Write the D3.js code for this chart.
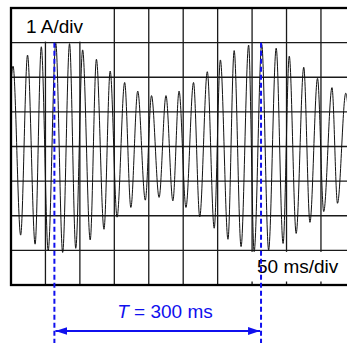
<!DOCTYPE html>
<html>
<head>
<meta charset="utf-8">
<script src="https://cdn.jsdelivr.net/npm/d3@7"></script>
<style>
  html, body { margin: 0; padding: 0; background: #fff; }
  svg { display: block; font-family: "Liberation Sans", Arial, Helvetica, sans-serif; }
</style>
</head>
<body>
<svg id="chart" width="347" height="343"></svg>
<script>
// Oscilloscope trace: 50 Hz current with a slow beat in its amplitude.
// Extremes of the trace (time in ms, current in A).
const peakTimes   = [3, 24, 44, 65, 85, 104, 124, 144, 165, 184, 204, 225, 244, 265, 285, 304, 324, 345, 364, 385, 404, 425, 445, 466, 486];
const peakValues  = [2.32, 2.64, 2.88, 2.98, 2.97, 2.79, 2.52, 2.18, 1.85, 1.60, 1.47, 1.47, 1.60, 1.85, 2.16, 2.50, 2.77, 2.93, 2.95, 2.84, 2.61, 2.29, 1.97, 1.70, 1.54];
const troughTimes  = [-7, 14, 35, 54, 75, 94, 115, 135, 154, 174, 195, 215, 235, 254, 274, 295, 315, 334, 353, 374, 395, 414, 434, 454, 474, 496];
const troughValues = [-2.2, -2.56, -2.82, -3.01, -3.06, -2.94, -2.70, -2.39, -2.04, -1.76, -1.55, -1.47, -1.57, -1.76, -2.03, -2.36, -2.68, -2.89, -3.04, -2.99, -2.80, -2.51, -2.19, -1.88, -1.64, -1.5];

// Graticule: 10 time divisions of 50 ms, 8 current divisions of 1 A.
const timeGrid    = [0, 50, 100, 150, 200, 250, 300, 350, 400, 450, 500];
const currentGrid = [-4, -3, -2, -1, 0, 1, 2, 3, 4];

// Period marker
const periodStart = 63;
const periodMs = 300;

const trace = peakTimes.map((t, i) => ({ t, v: peakValues[i] }))
  .concat(troughTimes.map((t, i) => ({ t, v: troughValues[i] })))
  .sort((a, b) => a.t - b.t);

const svg = d3.select("#chart");
const plot = { left: 11, top: 8, right: 355.4, bottom: 285 };

const x = d3.scaleLinear().domain([0, 500]).range([plot.left, plot.right]);
const y = d3.scaleLinear().domain([-4, 4]).range([plot.bottom, plot.top]);

svg.append("defs").append("clipPath").attr("id", "screen")
  .append("rect")
  .attr("x", plot.left).attr("y", plot.top)
  .attr("width", plot.right - plot.left).attr("height", plot.bottom - plot.top);

// grid lines
const grid = svg.append("g").attr("stroke", "#1a1a1a").attr("stroke-width", 1.3);
grid.selectAll("line.v").data(timeGrid).join("line")
  .attr("class", "v")
  .attr("x1", d => x(d)).attr("x2", d => x(d))
  .attr("y1", plot.top).attr("y2", plot.bottom);
grid.selectAll("line.h").data(currentGrid).join("line")
  .attr("class", "h")
  .attr("x1", plot.left).attr("x2", plot.right)
  .attr("y1", d => y(d)).attr("y2", d => y(d));

// the trace
const line = d3.line()
  .x(d => x(d.t))
  .y(d => y(d.v))
  .curve(d3.curveMonotoneX);

svg.append("path")
  .datum(trace)
  .attr("clip-path", "url(#screen)")
  .attr("fill", "none")
  .attr("stroke", "#111")
  .attr("stroke-width", 1)
  .attr("d", line);

// scale labels on white patches
svg.append("rect")
  .attr("x", plot.left + 1).attr("y", plot.top + 1)
  .attr("width", x(150) - plot.left - 3).attr("height", y(3) - plot.top - 2)
  .attr("fill", "#fff");
svg.append("text")
  .attr("x", 26).attr("y", 33)
  .attr("font-size", 19)
  .attr("fill", "#000")
  .text("1 A/div");

svg.append("rect")
  .attr("x", x(300) + 3).attr("y", y(-3) + 1.5)
  .attr("width", plot.right - x(300)).attr("height", plot.bottom - y(-3) - 5)
  .attr("fill", "#fff");
svg.append("text")
  .attr("x", 257).attr("y", 273)
  .attr("font-size", 19)
  .attr("fill", "#000")
  .text("50 ms/div");

// frame
svg.append("rect")
  .attr("x", plot.left).attr("y", plot.top)
  .attr("width", plot.right - plot.left).attr("height", plot.bottom - plot.top)
  .attr("fill", "none").attr("stroke", "#000").attr("stroke-width", 2.3);

// period markers
const blue = "#1010ee";
const markers = [periodStart, periodStart + periodMs];
svg.selectAll("line.marker").data(markers).join("line")
  .attr("class", "marker")
  .attr("x1", d => x(d)).attr("x2", d => x(d))
  .attr("y1", y(3)).attr("y2", 343)
  .attr("stroke", blue).attr("stroke-width", 2)
  .attr("stroke-dasharray", "5,3");

const arrowY = 331;
const defs = svg.select("defs");
defs.append("marker")
  .attr("id", "head")
  .attr("viewBox", "0 0 12 8")
  .attr("refX", 12).attr("refY", 4)
  .attr("markerWidth", 12).attr("markerHeight", 8)
  .attr("markerUnits", "userSpaceOnUse")
  .attr("orient", "auto-start-reverse")
  .append("path").attr("d", "M0,0 L12,4 L0,8 Z").attr("fill", blue);

svg.append("line")
  .attr("x1", x(markers[0]) + 1).attr("x2", x(markers[1]) - 1)
  .attr("y1", arrowY).attr("y2", arrowY)
  .attr("stroke", blue).attr("stroke-width", 2)
  .attr("marker-start", "url(#head)")
  .attr("marker-end", "url(#head)");

const label = svg.append("text")
  .attr("x", 165).attr("y", 318)
  .attr("text-anchor", "middle")
  .attr("font-size", 19)
  .attr("fill", blue);
label.append("tspan").attr("font-style", "italic").text("T");
label.append("tspan").text(" = " + periodMs + " ms");
</script>
</body>
</html>
